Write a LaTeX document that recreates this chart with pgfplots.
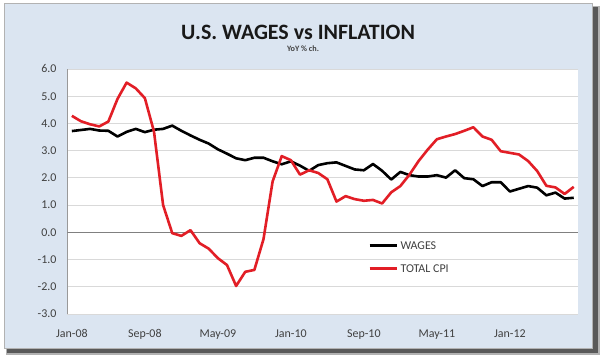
\documentclass[border=0pt]{standalone}
\usepackage{pgfplots}
\pgfplotsset{compat=1.18}
\usepackage{pgfplotstable}
\usetikzlibrary{backgrounds}
\usepackage{fontspec}
\setmainfont{Carlito}
\definecolor{panel}{HTML}{DBE5F1}
\definecolor{cpired}{HTML}{E21E26}
\definecolor{labgray}{HTML}{404040}
\definecolor{gridgray}{HTML}{D9D9D9}

\pgfplotstableread{
m val
0 3.72
1 3.76
2 3.80
3 3.74
4 3.73
5 3.52
6 3.69
7 3.80
8 3.68
9 3.77
10 3.80
11 3.92
12 3.73
13 3.56
14 3.40
15 3.26
16 3.05
17 2.89
18 2.72
19 2.65
20 2.74
21 2.74
22 2.61
23 2.50
24 2.61
25 2.45
26 2.26
27 2.47
28 2.54
29 2.57
30 2.44
31 2.31
32 2.28
33 2.51
34 2.26
35 1.94
36 2.22
37 2.10
38 2.05
39 2.05
40 2.10
41 2.01
42 2.28
43 1.99
44 1.95
45 1.70
46 1.84
47 1.84
48 1.50
49 1.60
50 1.70
51 1.64
52 1.36
53 1.46
54 1.24
55 1.27
}\wages

\pgfplotstableread{
m val
0 4.28
1 4.08
2 3.97
3 3.89
4 4.07
5 4.90
6 5.50
7 5.29
8 4.93
9 3.70
10 1.00
11 -0.03
12 -0.13
13 0.08
14 -0.40
15 -0.60
16 -0.95
17 -1.20
18 -1.97
19 -1.45
20 -1.38
21 -0.25
22 1.87
23 2.80
24 2.65
25 2.12
26 2.28
27 2.18
28 1.95
29 1.13
30 1.33
31 1.22
32 1.16
33 1.19
34 1.06
35 1.47
36 1.70
37 2.12
38 2.62
39 3.04
40 3.42
41 3.52
42 3.61
43 3.73
44 3.86
45 3.52
46 3.40
47 2.98
48 2.92
49 2.86
50 2.62
51 2.25
52 1.71
53 1.65
54 1.41
55 1.67
}\cpi

\begin{document}
\begin{tikzpicture}[x=1bp,y=1bp]
\begin{axis}[
  scale only axis, width=511bp, height=245bp,
  xmin=-0.5, xmax=55.5, ymin=-3, ymax=6,
  axis background/.style={fill=white},
  ytick={-3,-2,...,6},
  xtick={0,8,16,24,32,40,48},
  xticklabels={Jan-08,Sep-08,May-09,Jan-10,Sep-10,May-11,Jan-12},
  /pgf/number format/assume math mode=true,
  yticklabel={\pgfmathprintnumber[fixed,fixed zerofill,precision=1]{\tick}},
  major tick length=0pt,
  ymajorgrids,
  grid style={draw=gridgray, line width=0.9bp},
  axis x line*=bottom, axis y line*=left,
  x axis line style={draw=none},
  y axis line style={draw=black!40, line width=0.9bp},
  yticklabel style={font=\fontsize{12}{14}\selectfont, text=labgray, inner sep=0pt, anchor=east, xshift=-10.6bp},
  xticklabel style={font=\fontsize{12}{14}\selectfont, text=labgray, inner sep=0pt, anchor=base, yshift=-23.3bp},
  legend cell align=left,
  legend image code/.code={\draw[#1] (0bp,0bp) -- (27bp,0bp);},
  legend style={draw=none, fill=none, inner sep=0pt, at={(0.5885,0.2334)}, anchor=west,
    font=\fontsize{12}{14}\selectfont, text=labgray, row sep=15.3bp, column sep=2.7bp,
    nodes={inner sep=0pt, text height=7.7bp, text depth=0pt}},
]
\coordinate (O) at (rel axis cs:0,0);
\draw[black!50, line width=0.9bp] (axis cs:-0.5,0) -- (axis cs:55.5,0);
\addplot[black, line width=2.6bp, line join=round] table[x=m,y=val] {\wages};
\addlegendentry{WAGES}
\addplot[cpired, line width=2.6bp, line join=round] table[x=m,y=val] {\cpi};
\addlegendentry{TOTAL CPI}
\end{axis}
\begin{scope}[shift={(O)}, xshift=-67.3bp, yshift=-44bp]
\begin{scope}[on background layer]
\fill[white] (0,0) rectangle (602,358);
\fill[black!30] (6,3.5) rectangle (599.5,352);
\fill[black!65] (7,5.5) rectangle (597.5,351);
\fill[panel] (4,10) rectangle (592,355);
\draw[black!30, line width=0.8] (4,10) rectangle (592,355);
\end{scope}
\node[font=\fontsize{22}{26}\selectfont\bfseries, text=black!90, anchor=base, inner sep=0pt] at (298,318.8) {U.S. WAGES vs INFLATION};
\node[font=\fontsize{8.2}{10}\selectfont\bfseries, text=labgray, anchor=base, inner sep=0pt] at (303,307) {YoY \% ch.};
\end{scope}
\end{tikzpicture}
\end{document}
